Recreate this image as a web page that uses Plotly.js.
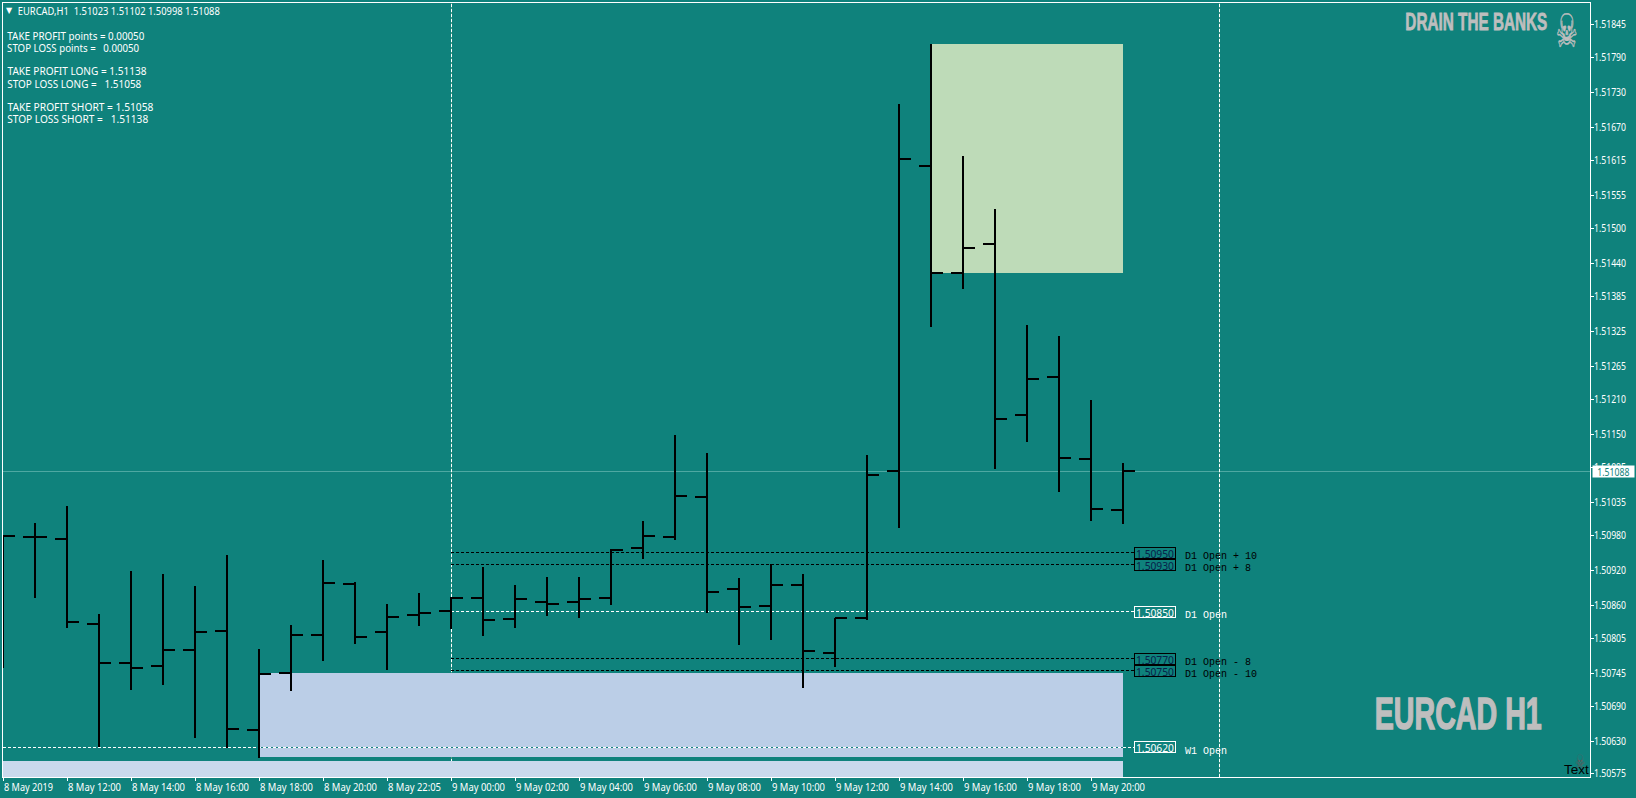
<!DOCTYPE html>
<html>
<head>
<meta charset="utf-8">
<script src="https://cdn.plot.ly/plotly-3.0.1.min.js"></script>
<style>
html,body{margin:0;padding:0;background:#0f827c;overflow:hidden}
#chart{width:1636px;height:798px}
.shapelayer path,.ohlc path{shape-rendering:crispEdges !important}
</style>
</head>
<body>
<div id="chart"></div>
<script>
var barIndex = [0,1,2,3,4,5,6,7,8,9,10,11,12,13,14,15,16,17,18,19,20,21,22,23,24,25,26,27,28,29,30,31,32,33,34,35];
var opens  = [1.50979,1.50977,1.50974,1.50829,1.50763,1.50758,1.50785,1.50817,1.50650,1.50746,1.50811,1.50897,1.50816,1.50844,1.50851,1.50873,1.50838,1.50866,1.50866,1.50873,1.50958,1.50977,1.51044,1.50888,1.50860,1.50895,1.50780,1.50839,1.51088,1.51605,1.51424,1.51473,1.51183,1.51248,1.51109,1.51023];
var highs  = [1.50979,1.51000,1.51029,1.50846,1.50919,1.50914,1.50894,1.50946,1.50787,1.50827,1.50938,1.50900,1.50863,1.50882,1.50875,1.50926,1.50895,1.50909,1.50909,1.50956,1.51004,1.51150,1.51119,1.50907,1.50931,1.50914,1.50839,1.51116,1.51711,1.51812,1.51622,1.51533,1.51336,1.51317,1.51209,1.51102];
var lows   = [1.50755,1.50874,1.50823,1.50621,1.50717,1.50726,1.50636,1.50619,1.50602,1.50716,1.50766,1.50795,1.50751,1.50826,1.50821,1.50809,1.50822,1.50843,1.50839,1.50861,1.50939,1.50972,1.50848,1.50794,1.50802,1.50721,1.50756,1.50836,1.50992,1.51333,1.51397,1.51092,1.51138,1.51053,1.51004,1.50998];
var closes = [1.50979,1.50977,1.50833,1.50763,1.50755,1.50785,1.50816,1.50651,1.50744,1.50811,1.50899,1.50807,1.50841,1.50848,1.50873,1.50836,1.50872,1.50863,1.50872,1.50955,1.50978,1.51046,1.50883,1.50858,1.50895,1.50783,1.50839,1.51082,1.51617,1.51424,1.51467,1.51177,1.51244,1.51111,1.51024,1.51088];

var xTickVals = [0,2,4,6,8,10,12,14,16,18,20,22,24,26,28,30,32,34];
var xTickText = ["8 May 2019","8 May 12:00","8 May 14:00","8 May 16:00","8 May 18:00","8 May 20:00","8 May 22:05","9 May 00:00","9 May 02:00","9 May 04:00","9 May 06:00","9 May 08:00","9 May 10:00","9 May 12:00","9 May 14:00","9 May 16:00","9 May 18:00","9 May 20:00"];
var yTicks = ["1.51845","1.51790","1.51730","1.51670","1.51615","1.51555","1.51500","1.51440","1.51385","1.51325","1.51265","1.51210","1.51150","1.51095","1.51035","1.50980","1.50920","1.50860","1.50805","1.50745","1.50690","1.50630","1.50575"];

var bidPrice = 1.51088;
var levelPrices = [1.50950,1.50930,1.50850,1.50770,1.50750,1.50620];
var levelNames  = ["D1 Open + 10","D1 Open + 8","D1 Open","D1 Open - 8","D1 Open - 10","W1 Open"];
var levelColors = ["#000000","#000000","#ffffff","#000000","#000000","#ffffff"];
var levelStarts = [14,14,14,14,14,0];
var periodSeparators = [14,38];
var zoneGreen = {x0:29,x1:35,y0:1.51424,y1:1.51812};
var zoneBlue  = {x0:8,x1:35,y0:1.50604,y1:1.50746};
var zoneBlueLow = {x0:0,x1:35,y0:1.50560,y1:1.50597};

var headerText = "EURCAD,H1\u00A0\u00A01.51023 1.51102 1.50998 1.51088";
var infoLines = ["TAKE PROFIT points = 0.00050","STOP LOSS points =\u00A0\u00A0\u00A00.00050","TAKE PROFIT LONG = 1.51138","STOP LOSS LONG =\u00A0\u00A0\u00A01.51058","TAKE PROFIT SHORT = 1.51058","STOP LOSS SHORT =\u00A0\u00A0\u00A01.51138"];
var infoRows = [35.5,47.5,71.5,83.5,107.5,119.5];
var infoWidths = [137,132,139,134,146,141];

var BG = "#0f827c", SANS = "Noto Sans", W = 1636, H = 798;
var mL = 3, mT = 3, mR = 46, mB = 21;
var pw = W - mL - mR, ph = H - mT - mB;
function px(x){ return (x - mL) / pw; }
function py(y){ return 1 - (y - mT) / ph; }
// fits: text element -> target pixel width, applied once Plotly has drawn the text
var fits = [];
function fit(i, len, stroke){ fits.push({i:i,len:len,stroke:stroke}); }
function label(text, cx, y, size, color, family, bold){
  return {text: bold ? "<b>"+text+"</b>" : text, xref:"paper", yref:"paper", x:px(cx), y:py(y),
    xanchor:"center", yanchor:"middle", showarrow:false, borderpad:0, borderwidth:0,
    font:{family:family||SANS, size:size, color:color}};
}
var annotations = [];
function add(a, len, stroke){ annotations.push(a); if(len) fit(annotations.length-1, len, stroke); }
add(label("\u25BC", 9.7, 10.5, 8, "#ffffff", "DejaVu Sans"));
add(label(headerText, 18+101, 10.5, 10, "#ffffff"), 202);
infoLines.forEach(function(l,i){ add(label(l, 7+infoWidths[i]/2, infoRows[i], 10, "#ffffff"), infoWidths[i]); });
add(label("DRAIN THE BANKS", 1476, 21.5, 24, "#bebebe", "Liberation Sans", true), 142, 0.8);
add(label("\u2620", 1566, 31, 46, "#bebebe", "DejaVu Sans"), 22, 0.5);
add(label("EURCAD H1", 1458.5, 713, 45, "#bebebe", "Liberation Sans", true), 167, 1.5);
add(label("\u2620", 1580, 762, 20, "#5c5c5c", "DejaVu Sans"), 10);
add(label("Text", 1576.5, 769, 13.5, "#000000", "Liberation Sans"));

levelPrices.forEach(function(p,i){
  add({text:p.toFixed(5), xref:"x", yref:"y", x:35.34, y:p, xanchor:"left", yanchor:"middle",
    showarrow:false, width:40, height:10, borderwidth:1, borderpad:0, bordercolor:levelColors[i], align:"center",
    bgcolor:"rgba(0,0,0,0)", font:{family:SANS,size:11,color:levelColors[i]=="#000000"?"#08204a":"#ffffff"}}, 38);
  add({text:levelNames[i], xref:"x", yref:"y", x:36.9, y:p, yshift:-3.8, xanchor:"left", yanchor:"middle",
    showarrow:false, borderpad:0, font:{family:"Liberation Mono",size:10,color:levelColors[i]}});
});
add({text:"1.51088", xref:"paper", yref:"y", x:px(1592), y:bidPrice, xanchor:"left", yanchor:"middle",
  showarrow:false, width:41, height:11, borderpad:0, bgcolor:"#ffffff", font:{family:SANS,size:10,color:BG}}, 32);

function zone(z,color){
  return {type:"rect",layer:"below",xref:"x",yref:"y",x0:z.x0,x1:z.x1,y0:z.y0,y1:z.y1,fillcolor:color,line:{width:0}};
}
var shapes = [zone(zoneBlueLow,"#c9d9ec"),zone(zoneBlue,"#bbcee7"),zone(zoneGreen,"#bedbb8")];
shapes.push({type:"line",layer:"below",xref:"paper",yref:"y",x0:0,x1:1,y0:bidPrice,y1:bidPrice,line:{color:"#4ea8a2",width:1}});
levelPrices.forEach(function(p,i){
  if(levelColors[i]=="#ffffff")
    shapes.push({type:"line",layer:"below",xref:"x",yref:"y",x0:levelStarts[i],x1:35.34,y0:p,y1:p,line:{color:BG,width:1}});
  shapes.push({type:"line",layer:"below",xref:"x",yref:"y",x0:levelStarts[i],x1:35.34,y0:p,y1:p,line:{color:levelColors[i],width:1,dash:"3px,2px"}});
});
periodSeparators.forEach(function(v){
  shapes.push({type:"line",layer:"below",xref:"x",yref:"paper",x0:v,x1:v,y0:0,y1:1,line:{color:"#4f9f86",width:1}});
  shapes.push({type:"line",layer:"below",xref:"x",yref:"paper",x0:v,x1:v,y0:0,y1:1,line:{color:"#ffffff",width:1,dash:"3px,2px"}});
});
var trace = {type:"ohlc", x:barIndex, open:opens, high:highs, low:lows, close:closes, tickwidth:0.375,
  line:{width:2}, increasing:{line:{color:"#000000",width:2}}, decreasing:{line:{color:"#000000",width:2}}, hoverinfo:"skip"};

var layout = {
  width:W, height:H, showlegend:false, paper_bgcolor:BG, plot_bgcolor:BG, hovermode:false, dragmode:false,
  margin:{l:mL,r:mR,t:mT,b:mB,pad:0},
  xaxis:{type:"linear",range:[0,pw/32],tickmode:"array",tickvals:xTickVals,ticktext:xTickText,showgrid:false,zeroline:false,
    showline:true,mirror:true,linecolor:"#ffffff",linewidth:1,ticks:"outside",ticklen:3,tickcolor:"#ffffff",tickwidth:1,
    ticklabelposition:"outside right",tickangle:0,ticklabelstandoff:1,tickfont:{family:SANS,size:10,color:"#ffffff"},rangeslider:{visible:false},automargin:false},
  yaxis:{type:"linear",range:[1.505699,1.518817],side:"right",tickmode:"array",tickvals:yTicks.map(Number),ticktext:yTicks,showgrid:false,zeroline:false,
    showline:true,mirror:true,linecolor:"#ffffff",linewidth:1,ticks:"outside",ticklen:3,tickcolor:"#ffffff",tickwidth:1,
    ticklabelstandoff:-2,tickfont:{family:SANS,size:10,color:"#ffffff"},automargin:false},
  shapes:shapes, annotations:annotations
};
function squeeze(t,len,stroke){
  t.setAttribute("textLength",String(len));t.setAttribute("lengthAdjust","spacingAndGlyphs");
  if(stroke){t.style.stroke=t.style.fill;t.style.strokeWidth=stroke+"px";}
}
Plotly.newPlot("chart",[trace],layout,{displayModeBar:false,staticPlot:true}).then(function(){
  var groups=document.querySelectorAll(".annotation");
  fits.forEach(function(f){
    var t=groups[f.i].querySelector(".annotation-text");
    if(t)squeeze(t,f.len,f.stroke);
  });
  document.querySelectorAll(".ytick text").forEach(function(t){squeeze(t,32);});
  document.querySelectorAll(".xtick text").forEach(function(t){squeeze(t,t.textContent==="8 May 2019"?49:53);});
});
</script>
</body>
</html>
